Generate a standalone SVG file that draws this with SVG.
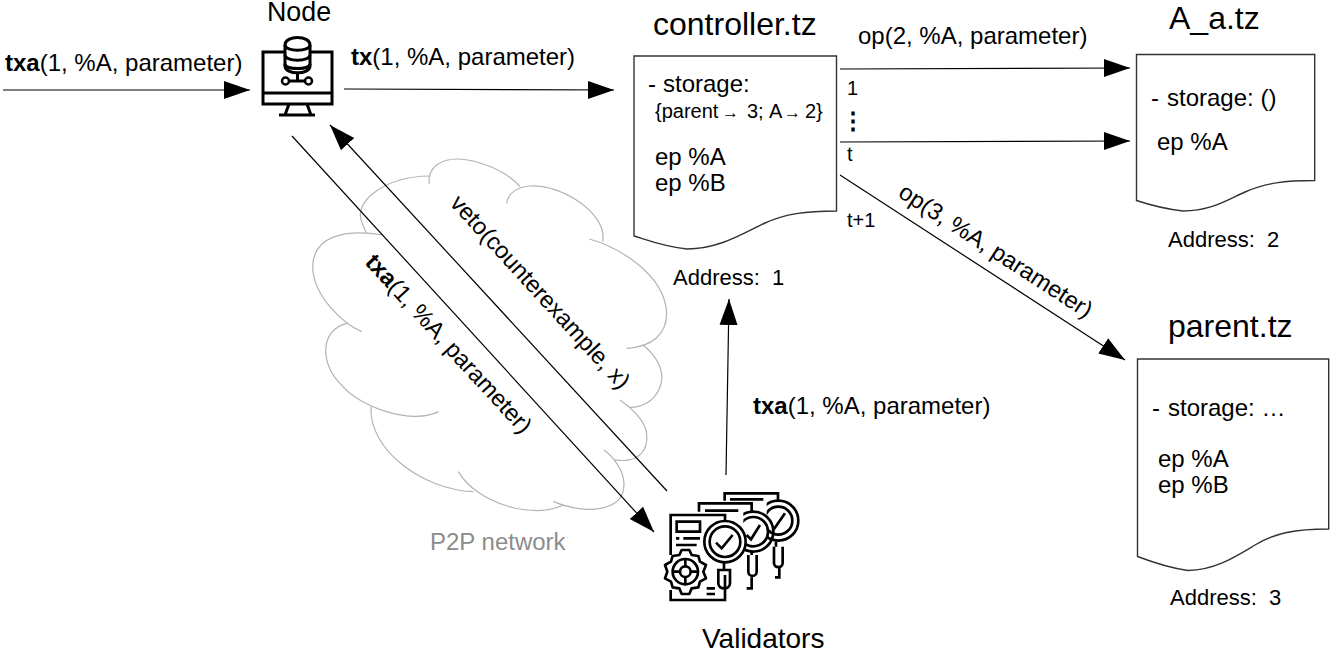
<svg xmlns="http://www.w3.org/2000/svg" width="1335" height="652" viewBox="0 0 1335 652">
<style>
text{font-family:"Liberation Sans",Arial,sans-serif;fill:#000;font-size:24px;white-space:pre}
.t{font-size:32px}
.n{font-size:26.800px}
.v{font-size:28px}
.s{font-size:20px}
.ad{font-size:22px}
.r{font-size:23.600px}
.c{fill:none;stroke:#000;stroke-width:1.2}
.doc{fill:#fff;stroke:#333;stroke-width:1.4}
.ic{fill:none;stroke:#000;stroke-width:3;stroke-linejoin:round}
.ict{fill:none;stroke:#000;stroke-width:8}
.w{fill:#fff;stroke:#000;stroke-width:8}
.cl{fill:none;stroke:#b3b3b3;stroke-width:3.600}
</style>
<defs>
<marker id="a" markerUnits="userSpaceOnUse" markerWidth="28" markerHeight="20" refX="26" refY="9" orient="auto" viewBox="0 0 28 18"><path d="M0 0L26 9L0 18Z"/></marker>
</defs>
<g id="cloud" transform="translate(300 150) scale(.3333)">
<path class="cl" d="M250 255C130 235 40 260 38 350C40 440 130 520 185 545"/>
<path class="cl" d="M140 520C60 540 60 640 120 700C180 775 340 825 415 785"/>
<path class="cl" d="M213 770C205 900 370 1020 520 1025"/>
<path class="cl" d="M475 965C530 1060 700 1110 790 1065"/>
<path class="cl" d="M760 1055C860 1095 975 1085 972 1000C970 960 940 920 912 900"/>
<path class="cl" d="M945 930C1020 940 1045 900 1040 850C1035 810 990 770 960 750"/>
<path class="cl" d="M990 772C1070 770 1090 700 1085 670C1080 640 1060 610 1030 585"/>
<path class="cl" d="M980 595C1060 590 1100 550 1100 490C1095 370 950 290 868 267"/>
<path class="cl" d="M908 275C925 190 780 100 690 108C650 112 625 130 620 160"/>
<path class="cl" d="M660 110C610 50 470 0 410 45C390 60 385 85 388 102"/>
<path class="cl" d="M388 78C260 80 160 150 185 215C190 230 195 240 200 250"/>
<text x="390" y="1200" style="font-size:72px;fill:#8c8c8c">P2P network</text>
</g>
<g id="connectors">
<line class="c" x1="3" y1="90" x2="250" y2="90" marker-end="url(#a)"/>
<line class="c" x1="344" y1="89" x2="614" y2="90" marker-end="url(#a)"/>
<line class="c" x1="840" y1="69" x2="1130" y2="68" marker-end="url(#a)"/>
<line class="c" x1="840" y1="142" x2="1130" y2="141" marker-end="url(#a)"/>
<line class="c" x1="840" y1="175" x2="1125" y2="360" marker-end="url(#a)"/>
<line class="c" x1="292" y1="136" x2="654" y2="532" marker-end="url(#a)"/>
<line class="c" x1="667" y1="491" x2="330" y2="125" marker-end="url(#a)"/>
<line class="c" x1="726" y1="475" x2="729" y2="299" marker-end="url(#a)"/>
</g>
<g id="node">
<rect x="263" y="52" width="69" height="52" fill="#fff" stroke="#000" stroke-width="3"/>
<path class="ic" d="M263 93H332M289 104L285 115M307 104L311 115M279 115H315"/>
<path class="ic" style="fill:#fff" d="M285 45C285 35 310 35 310 45V66C310 75 285 75 285 66Z"/>
<path class="ic" d="M285 45C285 52 310 52 310 45M285 55C285 62 310 62 310 55M285 64C285 70 310 70 310 64M297.500 73V81M289 81H305"/>
<circle cx="285.500" cy="81" r="3.500" fill="#fff" stroke="#000" stroke-width="2.500"/>
<circle cx="308.500" cy="81" r="3.500" fill="#fff" stroke="#000" stroke-width="2.500"/>
<text class="n" x="267" y="21">Node</text>
</g>
<g id="controller">
<path class="doc" d="M634 56H836.500V211C805 211 785 214 765 223C745 232 720 249 687 249C665 247 650 241 634 236Z"/>
<text class="t" x="653" y="35">controller.tz</text>
<text x="648" y="92">-</text><text x="663" y="92">storage:</text>
<text class="s" x="655" y="118">{parent<tspan font-size="17" x="722">→</tspan><tspan x="747">3;</tspan><tspan x="769">A</tspan><tspan font-size="17" x="784">→</tspan><tspan x="805">2}</tspan></text>
<text x="655" y="165">ep %A</text>
<text x="655" y="191">ep %B</text>
<text class="ad" x="673" y="285" xml:space="preserve">Address:  1</text>
</g>
<g id="a_a">
<path class="doc" d="M1136.500 54.500H1314.700V180.500C1285 180.500 1265 183 1245 192C1225 201 1210 211 1183 211C1165 209 1150 205 1136.500 200.500Z"/>
<text class="t" x="1169" y="29">A_a.tz</text>
<text x="1151" y="106">-</text><text x="1167" y="106">storage: ()</text>
<text x="1157" y="150">ep %A</text>
<text class="ad" x="1168" y="247" xml:space="preserve">Address:  2</text>
</g>
<g id="parent">
<path class="doc" d="M1137.500 359H1328.700V529C1295 529 1275 533 1255 545C1235 557 1215 570 1188 570.500C1170 568 1152 562 1137.500 556.500Z"/>
<text class="t" x="1168" y="337">parent.tz</text>
<text x="1152" y="416">-</text><text x="1168" y="416">storage: …</text>
<text x="1158" y="467">ep %A</text>
<text x="1158" y="493">ep %B</text>
<text class="ad" x="1170" y="605" xml:space="preserve">Address:  3</text>
</g>
<g id="validators">
<g transform="translate(650 480) scale(.3333)">
<path class="ict" d="M224 62V40H384V60M240 58H340"/>
<circle class="ict" cx="385" cy="122" r="60"/>
<circle class="ict" cx="385" cy="122" r="42"/>
<path class="ict" d="M370 150L405 100M378 185V200M372 200V250C372 265 398 265 398 250V200M375 292H388V262"/>
<rect x="226" y="66" width="124" height="240" fill="#fff"/>
<path class="ict" d="M147 95V70H305V95M165 92H265"/>
<circle class="ict" cx="310" cy="155" r="60"/>
<circle class="ict" cx="310" cy="155" r="44"/>
<path class="ict" d="M290 165L303 178L330 135M305 215V225M295 225V275C295 292 320 292 320 275V225M290 325H305V292"/>
<rect x="150" y="98" width="130" height="240" fill="#fff"/>
<path class="ict" d="M62 225V105H225V125M225 285V360H62V330"/>
<path class="ict" d="M80 125H150V155H80ZM78 175H88M100 175H150M78 195H140"/>
<circle class="w" cx="225" cy="185" r="62"/>
<circle class="ict" cx="225" cy="185" r="46"/>
<path class="ict" d="M198 188L215 205L248 165M222 247V270M205 270H240V310C240 330 205 330 205 310Z"/>
<path class="w" stroke-linejoin="round" d="M95 210L118 210L125 225L145 228L150 245L168 255L160 275L168 295L150 305L145 322L125 325L118 342H95L88 325L68 322L63 305L45 295L52 275L45 255L63 245L68 228L88 225Z"/>
<circle class="ict" cx="106" cy="275" r="38"/>
<circle class="ict" cx="106" cy="275" r="16"/>
<path class="ict" d="M106 237V259M106 291V313M68 275H90M122 275H144M170 325H195M170 342H195"/>
</g>
<text class="v" x="702" y="648">Validators</text>
</g>
<g id="labels">
<text x="5" y="71"><tspan font-weight="bold">txa</tspan>(1, %A, parameter)</text>
<text x="351" y="65"><tspan font-weight="bold">tx</tspan>(1, %A, parameter)</text>
<text x="858" y="44">op(2, %A, parameter)</text>
<text class="s" x="847" y="95">1</text>
<text x="841" y="129" style="font-weight:bold">⋮</text>
<text class="s" x="847" y="161">t</text>
<text class="s" x="847" y="227">t+1</text>
<text class="r" transform="translate(897 196) rotate(33)">op(3, %A, parameter)</text>
<text x="753" y="414"><tspan font-weight="bold">txa</tspan>(1, %A, parameter)</text>
<text class="r" transform="translate(449 204) rotate(47.500)">veto(counterexample, x)</text>
<text class="r" transform="translate(364 263) rotate(47.500)"><tspan font-weight="bold">txa</tspan>(1, %A, parameter)</text>
</g>
</svg>
